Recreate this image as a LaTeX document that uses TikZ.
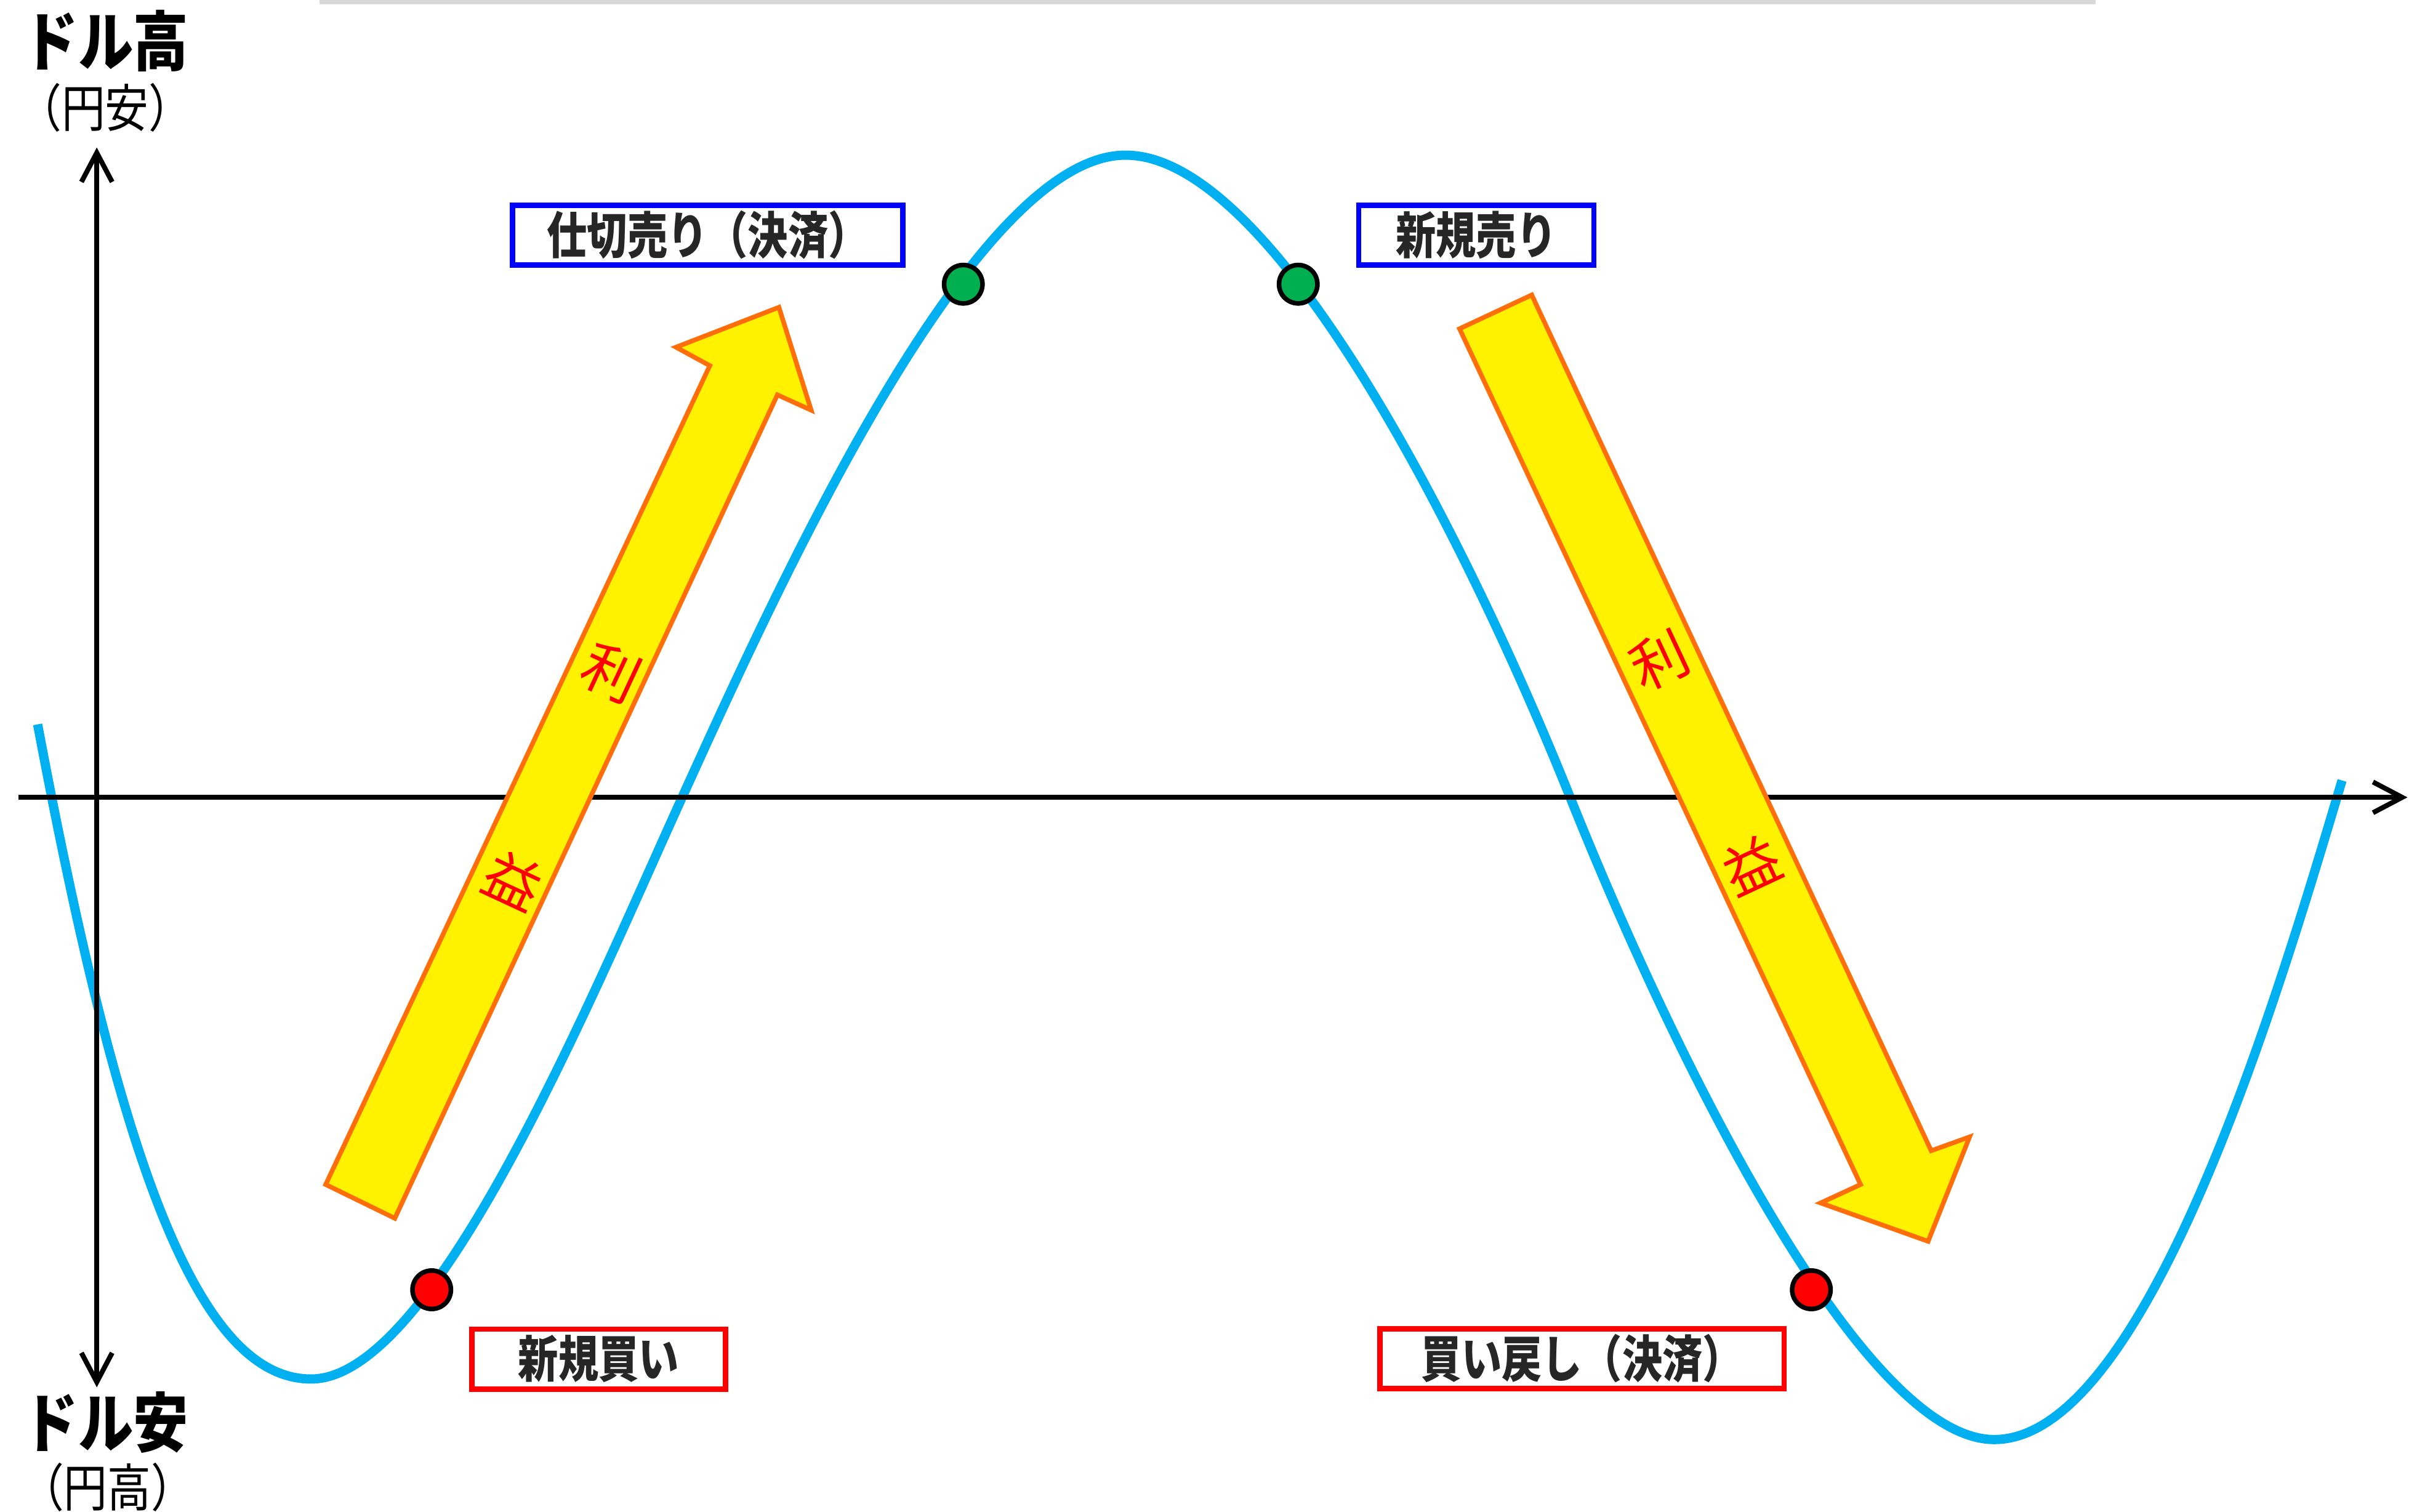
\documentclass[tikz,border=0pt]{standalone}
\usepackage{fontspec}
\usepackage{graphicx}
\usetikzlibrary{arrows.meta}
\newfontfamily\jp{Noto Sans CJK JP}
\newcommand{\narrow}[2][0.8]{\scalebox{#1}[1]{#2}}
\definecolor{sky}{RGB}{0,176,240}
\definecolor{okgreen}{RGB}{0,176,80}
\definecolor{arrowline}{RGB}{255,110,10}
\begin{document}
\begin{tikzpicture}[>={Straight Barb[length=1.9mm,width=2mm]}, x=0.1mm, y=-0.1mm,
    dot/.style={circle, draw=black, line width=0.3mm, minimum size=2.5mm, inner sep=0pt},
    tag/.style={draw, line width=0.35mm, minimum height=3.9mm, inner sep=0pt, text=black!85,
        font=\jp\bfseries\fontsize{9.3}{9.3}\selectfont},
    gain/.style={text=red, font=\jp\fontsize{10.5}{10.5}\selectfont},
    block/.style={draw=arrowline, fill=yellow, line width=0.3mm}]
        \useasboundingbox (0,0) rectangle (1568,984);
        \draw [gray!30, line width=0.35mm] (208,1) -- (1364,1);
        \draw [sky, line width=0.6mm] (24.5,471.5) .. controls (75,740) and (125,897.6) .. (202.5,897.6)
            .. controls (282.5,897.6) and (384,651) .. (444,519)
            .. controls (504,387) and (632.6,101) .. (732.6,101)
            .. controls (832.6,101) and (962,369) .. (1022,519)
            .. controls (1092,694) and (1213,937) .. (1298,937)
            .. controls (1398,937) and (1484.4,642) .. (1524.4,508);
        \coordinate (xl) at (12,519);
        \coordinate (xr) at (1567,519);
        \coordinate (yt) at (63,96);
        \coordinate (yb) at (63,903);
        \draw [->, line width=0.32mm] (xl) -- (xr);
        \draw [<->, line width=0.32mm] (yb) -- (yt);
        \filldraw [block] (212,771) -- (462,238) -- (440,226) -- (507,200) -- (528,267) -- (506,257) -- (257,793) -- cycle;
        \filldraw [block] (950,214) -- (997,192) -- (1257,749) -- (1282,740) -- (1255,808) -- (1185,783) -- (1211,771) -- cycle;
        \node [gain, rotate=-25] (uprieki) at (398,438) {利};
        \node [gain, rotate=-25] (upeki) at (334,573) {益};
        \node [gain, rotate=25] (downrieki) at (1080,430) {利};
        \node [gain, rotate=25] (downeki) at (1140,563) {益};
        \node [dot, fill=red] (buyin) at (281,839.5) {};
        \node [dot, fill=okgreen] (sellout) at (627,185) {};
        \node [dot, fill=okgreen] (sellin) at (845,185) {};
        \node [dot, fill=red] (buyout) at (1179,839.5) {};
        \node [tag, draw=blue, minimum width=25.4mm] (shikiri) at (460.7,153) {\narrow{仕切売り（決済）}};
        \node [tag, draw=blue, minimum width=15.3mm] (shinkiuri) at (960.9,153) {\narrow{新規売り}};
        \node [tag, draw=red, minimum width=16.5mm] (shinkikai) at (389.6,884.6) {\narrow{新規買い}};
        \node [tag, draw=red, minimum width=26.3mm] (kaimodoshi) at (1029.8,884.3) {\narrow{買い戻し（決済）}};
        \node [font=\jp\bfseries\fontsize{12}{12}\selectfont] (dollarhigh) at (69,26.5) {\narrow[0.85]{ドル高}};
        \node [font=\jp\fontsize{9.5}{9.5}\selectfont] (yenlow) at (68.5,70) {\narrow[0.85]{（円安）}};
        \node [font=\jp\bfseries\fontsize{12}{12}\selectfont] (dollarlow) at (69,926) {\narrow[0.85]{ドル安}};
        \node [font=\jp\fontsize{9.5}{9.5}\selectfont] (yenhigh) at (70,968) {\narrow[0.85]{（円高）}};
\end{tikzpicture}
\end{document}
